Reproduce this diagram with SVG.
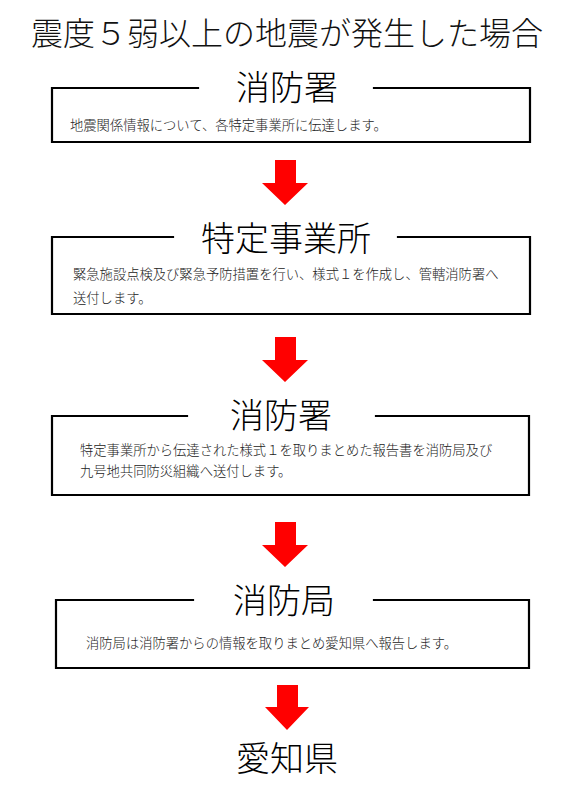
<svg xmlns="http://www.w3.org/2000/svg" width="565" height="800" viewBox="0 0 565 800">
<style>
.bg{fill:#ffffff}
.frame{fill:none;stroke:#000;stroke-width:2.2;stroke-linejoin:miter;stroke-linecap:square}
.title{font-family:"Noto Sans CJK JP","Noto Sans",sans-serif;font-size:32px;font-weight:300;fill:#111;text-anchor:middle}
.label{font-family:"Noto Sans CJK JP","Noto Sans",sans-serif;font-size:34px;font-weight:300;fill:#000;text-anchor:middle}
.body{font-family:"Noto Sans CJK JP","Noto Sans",sans-serif;font-size:13.3px;font-weight:300;fill:#222}
.arrow{fill:#ff0000;stroke:none}
</style>
<rect class="bg" x="0" y="0" width="565" height="800"/>
<g id="title">
<text class="title" x="287" y="45">震度５弱以上の地震が発生した場合</text>
</g>
<g id="node-shobosho-1">
<path class="frame" d="M198,88 H52 V142 H530 V88 H374"/>
<text class="label" x="287" y="100">消防署</text>
<text class="body" x="70" y="130">地震関係情報について、各特定事業所に伝達します。</text>
</g>
<g id="node-tokutei">
<path class="frame" d="M173,237 H52 V314 H530 V237 H398"/>
<text class="label" x="286" y="251">特定事業所</text>
<text class="body" x="73" y="278.5">緊急施設点検及び緊急予防措置を行い、様式１を作成し、管轄消防署へ</text>
<text class="body" x="73" y="303">送付します。</text>
</g>
<g id="node-shobosho-2">
<path class="frame" d="M187,416 H52 V495 H529 V416 H376"/>
<text class="label" x="281" y="428">消防署</text>
<text class="body" x="80" y="455">特定事業所から伝達された様式１を取りまとめた報告書を消防局及び</text>
<text class="body" x="80" y="476">九号地共同防災組織へ送付します。</text>
</g>
<g id="node-shobokyoku">
<path class="frame" d="M193,600 H56 V668 H529 V600 H374"/>
<text class="label" x="284" y="613">消防局</text>
<text class="body" x="86" y="648">消防局は消防署からの情報を取りまとめ愛知県へ報告します。</text>
</g>
<g id="node-aichi">
<text class="label" x="287" y="771">愛知県</text>
</g>
<g id="connectors">
<polygon class="arrow" points="275,160 296,160 296,183 308,183 285,205 262,183 275,183"/>
<polygon class="arrow" points="275,337 296,337 296,360 308,360 285,382 262,360 275,360"/>
<polygon class="arrow" points="275,522 296,522 296,545 308,545 285,567 262,545 275,545"/>
<polygon class="arrow" points="277,685 298,685 298,707 309,707 287,730 265,707 277,707"/>
</g>
</svg>
